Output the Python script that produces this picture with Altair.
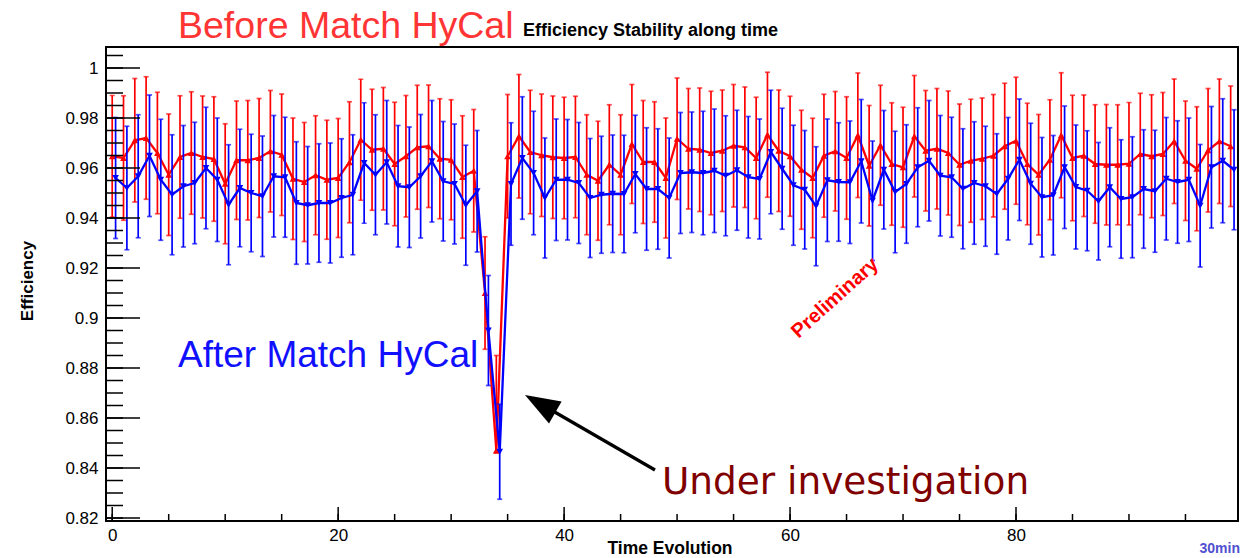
import altair as alt
import pandas as pd

# ---------------- data ----------------
time_index = list(range(100))

red_eff = [0.9647, 0.9640, 0.9711, 0.9720, 0.9660, 0.9573, 0.9644, 0.9660, 0.9644, 0.9636,
           0.9537, 0.9631, 0.9631, 0.9640, 0.9667, 0.9653, 0.9557, 0.9544, 0.9571, 0.9553,
           0.9560, 0.9623, 0.9713, 0.9673, 0.9677, 0.9616, 0.9647, 0.9683, 0.9687, 0.9637,
           0.9633, 0.9564, 0.9589, 0.9100, 0.8470, 0.9647, 0.9727, 0.9664, 0.9651, 0.9643,
           0.9640, 0.9644, 0.9573, 0.9549, 0.9613, 0.9573, 0.9696, 0.9624, 0.9624, 0.9560,
           0.9717, 0.9677, 0.9673, 0.9660, 0.9669, 0.9689, 0.9683, 0.9640, 0.9733, 0.9669,
           0.9647, 0.9593, 0.9560, 0.9649, 0.9667, 0.9640, 0.9731, 0.9609, 0.9691, 0.9616,
           0.9603, 0.9727, 0.9669, 0.9677, 0.9660, 0.9613, 0.9629, 0.9637, 0.9649, 0.9687,
           0.9709, 0.9616, 0.9573, 0.9633, 0.9731, 0.9640, 0.9649, 0.9616, 0.9613, 0.9613,
           0.9617, 0.9656, 0.9647, 0.9656, 0.9707, 0.9629, 0.9597, 0.9671, 0.9707, 0.9687]

# upper error of the red series
red_err_up = [0.0243, 0.0249, 0.0247, 0.0245, 0.0243, 0.0243, 0.0245, 0.0245, 0.0244, 0.0249,
              0.0240, 0.0237, 0.0239, 0.0238, 0.0243, 0.0243, 0.0243, 0.0238, 0.0238, 0.0238,
              0.0238, 0.0242, 0.0242, 0.0242, 0.0245, 0.0247, 0.0243, 0.0248, 0.0245, 0.0240,
              0.0240, 0.0245, 0.0245, 0.0225, 0.0380, 0.0247, 0.0247, 0.0247, 0.0245, 0.0245,
              0.0243, 0.0243, 0.0240, 0.0238, 0.0240, 0.0240, 0.0238, 0.0246, 0.0241, 0.0240,
              0.0243, 0.0241, 0.0247, 0.0247, 0.0243, 0.0245, 0.0241, 0.0243, 0.0250, 0.0243,
              0.0240, 0.0238, 0.0239, 0.0246, 0.0239, 0.0245, 0.0249, 0.0241, 0.0240, 0.0245,
              0.0240, 0.0243, 0.0241, 0.0241, 0.0248, 0.0243, 0.0246, 0.0243, 0.0245, 0.0252,
              0.0254, 0.0243, 0.0241, 0.0240, 0.0250, 0.0251, 0.0243, 0.0237, 0.0241, 0.0240,
              0.0245, 0.0243, 0.0246, 0.0246, 0.0249, 0.0239, 0.0248, 0.0247, 0.0249, 0.0241]

# lower error of the red series
red_err_low = [0.0243, 0.0249, 0.0247, 0.0245, 0.0243, 0.0243, 0.0245, 0.0245, 0.0244, 0.0249,
               0.0240, 0.0237, 0.0239, 0.0238, 0.0243, 0.0243, 0.0243, 0.0238, 0.0238, 0.0238,
               0.0238, 0.0242, 0.0242, 0.0242, 0.0245, 0.0247, 0.0243, 0.0248, 0.0245, 0.0240,
               0.0240, 0.0245, 0.0245, 0.0225, 0.0010, 0.0247, 0.0247, 0.0247, 0.0245, 0.0245,
               0.0243, 0.0243, 0.0240, 0.0238, 0.0240, 0.0240, 0.0238, 0.0246, 0.0241, 0.0240,
               0.0243, 0.0241, 0.0247, 0.0247, 0.0243, 0.0245, 0.0241, 0.0243, 0.0250, 0.0243,
               0.0240, 0.0238, 0.0239, 0.0246, 0.0239, 0.0245, 0.0249, 0.0241, 0.0240, 0.0245,
               0.0240, 0.0243, 0.0241, 0.0241, 0.0248, 0.0243, 0.0246, 0.0243, 0.0245, 0.0252,
               0.0254, 0.0243, 0.0241, 0.0240, 0.0250, 0.0251, 0.0243, 0.0237, 0.0241, 0.0240,
               0.0245, 0.0243, 0.0246, 0.0246, 0.0249, 0.0239, 0.0248, 0.0247, 0.0249, 0.0241]

blue_eff = [0.9560, 0.9520, 0.9567, 0.9649, 0.9553, 0.9493, 0.9527, 0.9540, 0.9600, 0.9553,
            0.9453, 0.9520, 0.9500, 0.9487, 0.9567, 0.9563, 0.9460, 0.9451, 0.9460, 0.9460,
            0.9480, 0.9493, 0.9620, 0.9573, 0.9623, 0.9527, 0.9523, 0.9567, 0.9627, 0.9547,
            0.9536, 0.9451, 0.9507, 0.8950, 0.8465, 0.9536, 0.9640, 0.9580, 0.9480, 0.9553,
            0.9553, 0.9540, 0.9480, 0.9493, 0.9497, 0.9496, 0.9576, 0.9516, 0.9516, 0.9480,
            0.9580, 0.9583, 0.9580, 0.9589, 0.9569, 0.9591, 0.9563, 0.9556, 0.9664, 0.9597,
            0.9531, 0.9513, 0.9447, 0.9551, 0.9544, 0.9543, 0.9627, 0.9469, 0.9593, 0.9504,
            0.9536, 0.9603, 0.9629, 0.9569, 0.9563, 0.9517, 0.9540, 0.9527, 0.9496, 0.9557,
            0.9633, 0.9537, 0.9483, 0.9491, 0.9603, 0.9524, 0.9509, 0.9467, 0.9523, 0.9476,
            0.9483, 0.9516, 0.9507, 0.9557, 0.9544, 0.9553, 0.9449, 0.9603, 0.9629, 0.9593]

blue_err = [0.0242, 0.0247, 0.0246, 0.0243, 0.0242, 0.0240, 0.0243, 0.0243, 0.0243, 0.0247,
            0.0240, 0.0235, 0.0235, 0.0241, 0.0243, 0.0240, 0.0245, 0.0235, 0.0237, 0.0240,
            0.0237, 0.0240, 0.0241, 0.0240, 0.0247, 0.0243, 0.0241, 0.0247, 0.0243, 0.0239,
            0.0240, 0.0240, 0.0243, 0.0220, 0.0190, 0.0245, 0.0245, 0.0247, 0.0240, 0.0243,
            0.0241, 0.0242, 0.0238, 0.0234, 0.0235, 0.0235, 0.0235, 0.0245, 0.0241, 0.0240,
            0.0242, 0.0241, 0.0247, 0.0247, 0.0240, 0.0240, 0.0243, 0.0240, 0.0247, 0.0242,
            0.0240, 0.0237, 0.0238, 0.0245, 0.0237, 0.0245, 0.0247, 0.0239, 0.0237, 0.0243,
            0.0237, 0.0238, 0.0241, 0.0241, 0.0240, 0.0240, 0.0245, 0.0240, 0.0241, 0.0245,
            0.0243, 0.0242, 0.0239, 0.0239, 0.0245, 0.0248, 0.0240, 0.0235, 0.0238, 0.0237,
            0.0242, 0.0237, 0.0244, 0.0245, 0.0245, 0.0247, 0.0245, 0.0243, 0.0248, 0.0240]

blue_x_shift = 0.3

y_tick_values = [0.82, 0.84, 0.86, 0.88, 0.90, 0.92, 0.94, 0.96, 0.98, 1.0]
x_tick_values = [0, 20, 40, 60, 80]
y_minor_values = [round(0.82 + 0.005 * k, 3) for k in range(38)]
x_minor_values = [5 * k for k in range(20)]

title_text = "Efficiency Stability along time"
before_text = "Before Match HyCal"
after_text = "After Match HyCal"
under_text = "Under investigation"
prelim_text = "Preliminary"
x_title = "Time Evolution"
y_title = "Efficiency"
unit_text = "30min"

# ---------------- layout ----------------
W, H = 1132, 474
FONT = "Liberation Sans"

xs = alt.Scale(domain=[-0.55, 99.65], nice=False, zero=False)
ys = alt.Scale(domain=[0.8188, 1.0084], nice=False, zero=False)

x_axis = alt.Axis(values=x_tick_values, format="d", ticks=False, domain=False, grid=False,
                  labelFont=FONT, labelFontSize=17, labelColor="black", labelPadding=6,
                  labelFlush=False, labelOverlap=False, title=None)
y_axis = alt.Axis(values=y_tick_values, format=".2~f", ticks=False, domain=False, grid=False,
                  labelFont=FONT, labelFontSize=17, labelColor="black", labelPadding=8,
                  labelFlush=False, labelOverlap=False, title=None)


def series_df(eff, err_low, err_up, shift):
    return pd.DataFrame({
        "x": [t + shift for t in time_index],
        "eff": eff,
        "lo": [e - s for e, s in zip(eff, err_low)],
        "hi": [e + s for e, s in zip(eff, err_up)],
    })


def series_layers(df, color, shape):
    base = alt.Chart(df)
    X = alt.X("x:Q", scale=xs, axis=x_axis)
    bars = base.mark_rule(color=color, strokeWidth=1.7).encode(
        x=X, y=alt.Y("lo:Q", scale=ys, axis=y_axis), y2="hi:Q")
    cap_lo = base.mark_tick(color=color, orient="horizontal", size=5, thickness=1.7).encode(
        x=X, y=alt.Y("lo:Q", scale=ys, axis=y_axis))
    cap_hi = base.mark_tick(color=color, orient="horizontal", size=5, thickness=1.7).encode(
        x=X, y=alt.Y("hi:Q", scale=ys, axis=y_axis))
    line = base.mark_line(color=color, strokeWidth=2.3).encode(
        x=X, y=alt.Y("eff:Q", scale=ys, axis=y_axis))
    pts = base.mark_point(color=color, shape=shape, filled=True, size=45, opacity=1).encode(
        x=X, y=alt.Y("eff:Q", scale=ys, axis=y_axis))
    return [bars, cap_lo, cap_hi, line, pts]


red_df = series_df(red_eff, red_err_low, red_err_up, 0.0)
blue_df = series_df(blue_eff, blue_err, blue_err, blue_x_shift)

layers = []
layers += series_layers(red_df, "#ff0000", "triangle-up")
layers += series_layers(blue_df, "#0000ff", "triangle-down")

# inner ticks (ROOT style)
ymaj = pd.DataFrame({"v": y_tick_values})
ymin = pd.DataFrame({"v": [v for v in y_minor_values if v <= 1.0084]})
xmaj = pd.DataFrame({"v": x_tick_values})
xmin = pd.DataFrame({"v": x_minor_values})

layers.append(alt.Chart(ymaj).mark_rule(color="black", strokeWidth=1.5).encode(
    y=alt.Y("v:Q", scale=ys, axis=y_axis), x=alt.value(0), x2=alt.value(34)))
layers.append(alt.Chart(ymin).mark_rule(color="black", strokeWidth=1.5).encode(
    y=alt.Y("v:Q", scale=ys, axis=y_axis), x=alt.value(0), x2=alt.value(17)))
layers.append(alt.Chart(xmaj).mark_rule(color="black", strokeWidth=1.5).encode(
    x=alt.X("v:Q", scale=xs, axis=x_axis), y=alt.value(H), y2=alt.value(H - 14)))
layers.append(alt.Chart(xmin).mark_rule(color="black", strokeWidth=1.5).encode(
    x=alt.X("v:Q", scale=xs, axis=x_axis), y=alt.value(H), y2=alt.value(H - 7)))


def text_layer(txt, x, y, size, color="black", font=FONT, weight="normal", align="left",
               baseline="alphabetic", angle=0):
    kw = dict(fontSize=size, color=color, font=font, fontWeight=weight, align=align,
              baseline=baseline)
    if angle:
        kw["angle"] = angle
    return alt.Chart(pd.DataFrame({"t": [txt]})).mark_text(**kw).encode(
        x=alt.value(x), y=alt.value(y), text="t:N")


layers.append(text_layer(before_text, 72, -9, 37.5, color="#ff3535"))
layers.append(text_layer(title_text, 417, -11, 18, weight="bold"))
layers.append(text_layer(after_text, 72, 320, 37, color="#1010ff"))
layers.append(text_layer(under_text, 556, 447, 37.4, color="#800000", font="DejaVu Sans"))
layers.append(text_layer(prelim_text, 729, 251, 20, color="#ff0000", weight="bold",
                         align="center", baseline="middle", angle=318))
layers.append(text_layer(x_title, 564, 502, 17.5, weight="bold", align="center", baseline="middle"))
layers.append(text_layer(unit_text, 1134, 502, 14, color="#5050d0", weight="bold",
                         align="right", baseline="middle"))
layers.append(text_layer(y_title, -78, 234, 17, weight="bold", align="center",
                         baseline="middle", angle=270))

# arrow
arrow_df = pd.DataFrame({"a": [1]})
layers.append(alt.Chart(arrow_df).mark_rule(color="black", strokeWidth=3.2).encode(
    x=alt.value(549), y=alt.value(423), x2=alt.value(440), y2=alt.value(360)))
layers.append(alt.Chart(arrow_df).mark_point(
    shape="M0,0 L0.36,1 L-0.36,1 Z", filled=True, color="black", opacity=1,
    size=4900, angle=300, strokeWidth=0).encode(x=alt.value(419), y=alt.value(348)))

chart = alt.layer(*layers).properties(
    width=W, height=H,
    autosize=alt.AutoSizeParams(type="none"),
    padding={"left": 106, "top": 47, "right": 21, "bottom": 37},
    background="white",
).configure_view(stroke="black", strokeWidth=2)

chart.save("out.html", embed_options={"renderer": "svg", "actions": False})
